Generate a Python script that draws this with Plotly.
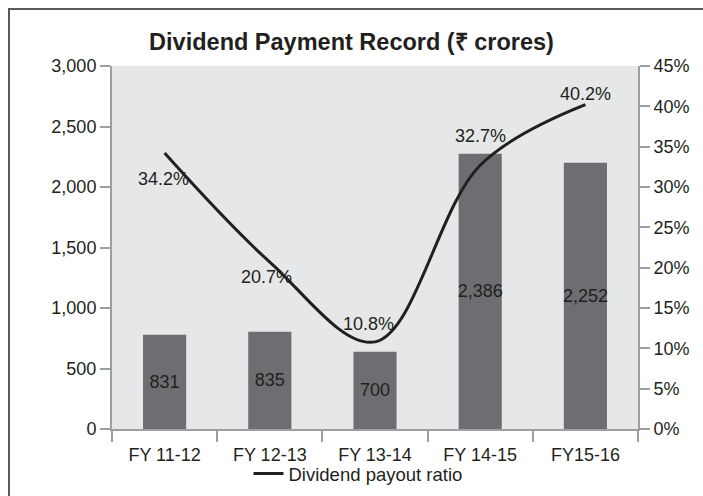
import plotly.graph_objects as go

categories = ["FY 11-12", "FY 12-13", "FY 13-14", "FY 14-15", "FY15-16"]
bar_heights = [779, 804, 639, 2275, 2201]          # bar heights as drawn in the picture
bar_labels = ["831", "835", "700", "2,386", "2,252"]  # labels printed on the bars
payout_ratio = [34.2, 20.7, 10.8, 32.7, 40.2]
payout_labels = ["34.2%", "20.7%", "10.8%", "32.7%", "40.2%"]
left_ticks = [0, 500, 1000, 1500, 2000, 2500, 3000]
right_ticks = [0, 5, 10, 15, 20, 25, 30, 35, 40, 45]
right_tick_labels = ["0%", "5%", "10%", "15%", "20%", "25%", "30%", "35%", "40%", "45%"]

FONT = "Liberation Sans, Arial, Helvetica, sans-serif"
TXT = "#231f20"
AX = "#9d9fa2"

# label offsets (pixels) for the ratio labels
lab_dx = [-1, -3, -7, 0, 0]
lab_dy = [-26, -15, 18, 29, 11]

fig = go.Figure()
fig.add_trace(go.Bar(
    x=categories, y=bar_heights, text=bar_labels,
    textposition="inside", insidetextanchor="middle", constraintext="none",
    textangle=0,
    textfont=dict(family=FONT, size=18, color=TXT),
    marker=dict(color="#6d6e71", line=dict(width=0)),
    showlegend=False, hoverinfo="skip", yaxis="y",
))
fig.add_trace(go.Scatter(
    x=categories, y=payout_ratio, mode="lines",
    line=dict(color=TXT, width=3, shape="spline", smoothing=1.0),
    name="Dividend payout ratio", yaxis="y2",
))

annotations = []
for c, v, t, dx, dy in zip(categories, payout_ratio, payout_labels, lab_dx, lab_dy):
    annotations.append(dict(
        x=c, y=v, xref="x", yref="y2", text=t, showarrow=False,
        xshift=dx, yshift=dy, font=dict(family=FONT, size=18, color=TXT),
    ))

fig.update_layout(
    width=703, height=496,
    margin=dict(l=112, r=65, t=66, b=67, autoexpand=False),
    paper_bgcolor="white", plot_bgcolor="#e6e7e8",
    font=dict(family=FONT, size=18, color=TXT),
    title=dict(text="<b>Dividend Payment Record (₹ crores)</b>",
               x=0.5, xanchor="center", y=1 - 42 / 496, yanchor="middle",
               font=dict(family=FONT, size=23.5, color=TXT)),
    bargap=0.59,
    xaxis=dict(showline=True, linecolor=AX, linewidth=2, ticks="outside",
               tickson="boundaries", ticklen=11, tickcolor=AX, tickwidth=2,
               ticklabelstandoff=8,
               showgrid=False, zeroline=False,
               tickfont=dict(family=FONT, size=18, color=TXT)),
    yaxis=dict(range=[0, 3000], tickvals=left_ticks, tickformat=",",
               showline=True, linecolor=AX, linewidth=2, ticks="outside",
               ticklen=10, tickcolor=AX, tickwidth=2,
               showgrid=False, zeroline=False,
               tickfont=dict(family=FONT, size=18, color=TXT)),
    yaxis2=dict(range=[0, 45], tickvals=right_ticks, ticktext=right_tick_labels,
                overlaying="y", side="right",
                showline=True, linecolor=AX, linewidth=2, ticks="outside",
                ticklen=10, tickcolor=AX, tickwidth=2,
                showgrid=False, zeroline=False,
                tickfont=dict(family=FONT, size=18, color=TXT)),
    legend=dict(orientation="h", x=0.5 - 17 / 526, xanchor="center",
                y=(429 - 474) / 363, yanchor="middle",
                bgcolor="rgba(0,0,0,0)",
                font=dict(family=FONT, size=18.5, color=TXT)),
    annotations=annotations,
    shapes=[dict(type="rect", xref="paper", yref="paper",
                 x0=(9 - 112) / 526, x1=2.0, y0=-2.0, y1=(429 - 9) / 363,
                 line=dict(color="#58595b", width=2), fillcolor="rgba(0,0,0,0)",
                 layer="above")],
)

fig.write_html("out.html",
               config={"displayModeBar": False},
               post_script="document.body.style.margin='0px';document.body.style.overflow='hidden';")
